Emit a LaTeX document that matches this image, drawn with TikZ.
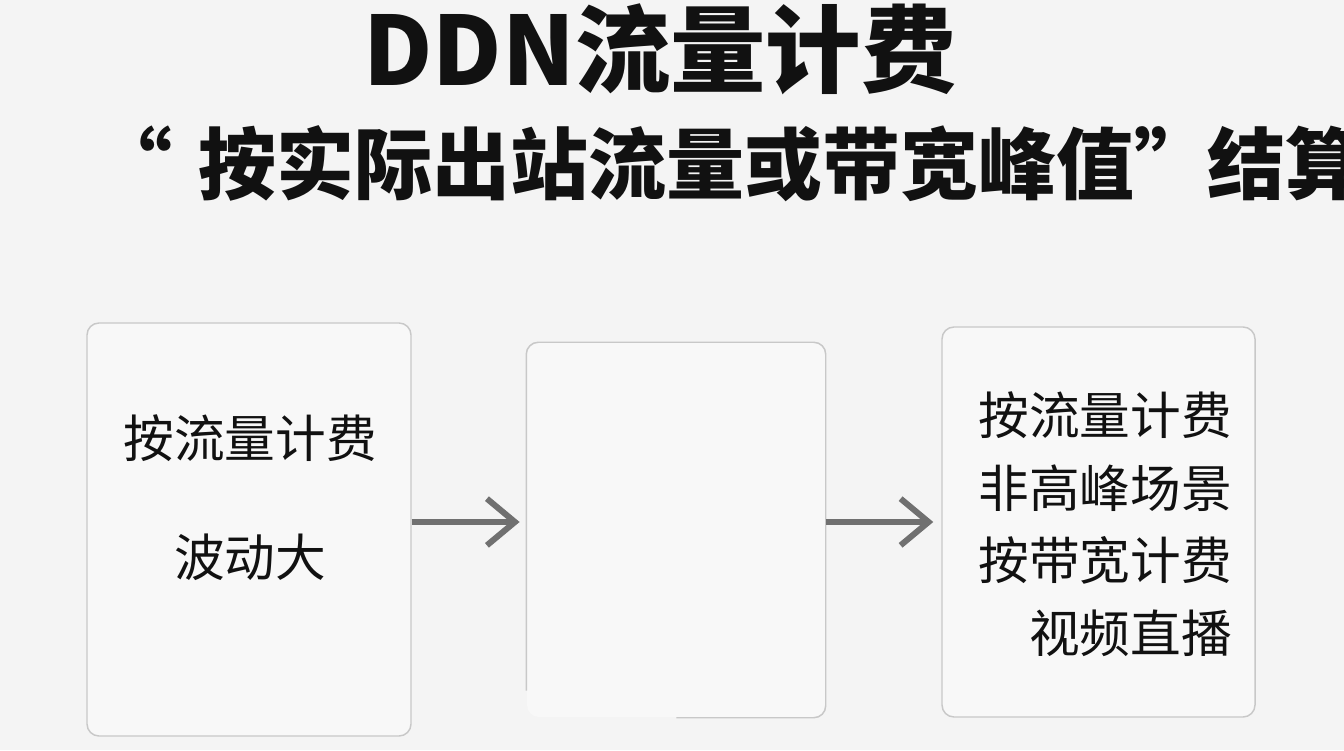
\documentclass[tikz,border=0pt]{standalone}
\usepackage{fontspec}
\setmainfont{Noto Sans CJK SC}
\usepackage{xcolor}
\usetikzlibrary{arrows.meta,positioning,calc}
\definecolor{bggray}{HTML}{F4F4F4}
\definecolor{panelfill}{HTML}{F8F8F8}
\definecolor{panelline}{HTML}{C8C8C8}
\definecolor{arrowgray}{HTML}{707070}
\definecolor{inkblack}{HTML}{111111}
\tikzset{
  panel/.style={draw=panelline,fill=panelfill,line width=1.1pt,rounded corners=9pt,inner sep=0pt},
  flow/.style={draw=arrowgray,line width=4.5pt,-{Straight Barb[length=21pt,width=35pt]}},
  boxtext/.style={font=\fontsize{38}{54.4}\selectfont,color=inkblack,inner sep=0pt}
}
\begin{document}
\begin{tikzpicture}[x=0.75pt,y=0.75pt]
  \path[use as bounding box,clip] (0,0) rectangle (1344,750);
  \fill[bggray] (0,0) rectangle (1344,750);

  % Title and subtitle
  \node[font=\fontsize{71.5}{80}\selectfont\bfseries,color=inkblack] (title) at (660,701) {DDN流量计费};
  \node[font=\fontsize{58.5}{70}\selectfont\bfseries,color=inkblack,anchor=west,inner sep=0pt] (subtitle) at (94,586) {“\kern20pt按实际出站流量或带宽峰值”\kern-4pt结算};

  % Left panel
  \node[panel,minimum width=243pt,minimum height=309.75pt] (left) at (249,220.5) {};
  \node[boxtext,align=center,font=\fontsize{38}{89.25}\selectfont] (lefttxt) at (250,252.5) {按流量计费\\波动大};

  % Middle panel (outline open at the lower left)
  \node[panel,draw=none,minimum width=223.5pt,minimum height=280.5pt] (mid) at (676,220) {};
  \draw[panelline,line width=1.1pt,rounded corners=9pt] ($(mid.south west)+(0,27)$) -- (mid.north west) -- (mid.north east) -- (mid.south east) -- ($(mid.south west)+(150,0)$);

  % Right panel
  \node[panel,minimum width=234.75pt,minimum height=292.5pt] (right) at (1098.5,228) {};
  \node[boxtext,align=right,anchor=east] (righttxt) at (1232,226) {按流量计费\\非高峰场景\\按带宽计费\\视频直播};

  % Arrows
  \draw[flow,shorten >=5pt] (left.east |- right.west) -- (mid.west |- right.west);
  \draw[flow,shorten >=6pt] (mid.east |- right.west) -- (right.west);
\end{tikzpicture}
\end{document}
